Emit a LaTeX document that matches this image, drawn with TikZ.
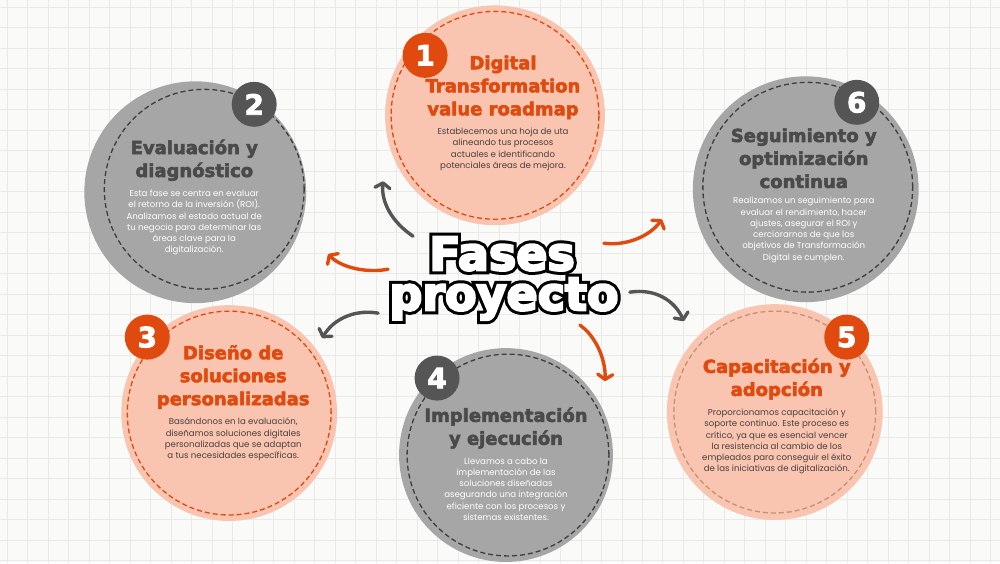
\documentclass[tikz,border=0pt]{standalone}
\usepackage{fontspec}
\setmainfont{Poppins}
\newfontfamily\heavyfont{DejaVu Sans}[BoldFeatures={FakeBold=3}]
\newfontfamily\wordfont{DejaVu Sans}[BoldFeatures={FakeBold=5}]
\newfontfamily\rimfont{DejaVu Sans}[BoldFeatures={FakeBold=18}]
\usetikzlibrary{arrows.meta}
\usetikzlibrary{positioning}

\definecolor{paper}{RGB}{250,250,248}
\definecolor{gridgray}{RGB}{233,233,231}
\definecolor{peach}{RGB}{249,196,176}
\definecolor{stone}{RGB}{166,166,166}
\definecolor{rust}{RGB}{224,74,14}
\definecolor{slate}{RGB}{85,85,85}
\definecolor{heading}{RGB}{74,74,74}
\definecolor{ringgray}{RGB}{62,62,62}
\definecolor{ink}{RGB}{72,64,64}
\definecolor{tan}{RGB}{196,146,116}

\tikzset{
  disc/.style={circle, minimum size=#1, inner sep=0pt},
  ring/.style={circle, minimum size=#1, inner sep=0pt, draw, line width=1.3pt, dash pattern=on 5pt off 3pt},
  badge/.style={circle, minimum size=45pt, inner sep=0pt, font=\heavyfont\bfseries\fontsize{28}{28}\selectfont, text=white},
  phase/.style={align=center, font=\heavyfont\bfseries\fontsize{18}{23}\selectfont},
  blurb/.style={align=center, font=\fontsize{8.6}{11.3}\selectfont},
  bigword/.style={anchor=base, inner sep=0pt, font=\wordfont\bfseries\fontsize{46}{46}\selectfont},
  bigrim/.style={bigword, font=\rimfont\bfseries\fontsize{46}{46}\selectfont, text=black},
  flow/.style={line width=3.4pt, line cap=round, -{Straight Barb[length=5pt,width=15pt,round]}},
}

\begin{document}
\begin{tikzpicture}[x=1pt, y=-1pt]
  % paper with grid
  \fill[paper] (0,0) rectangle (1000,563);
  \foreach \i in {0,...,48}
    \draw[gridgray, line width=0.8pt] (7+20.5*\i,0) -- (7+20.5*\i,563);
  \foreach \j in {0,...,27}
    \draw[gridgray, line width=0.8pt] (0,7+20.5*\j) -- (1000,7+20.5*\j);
  \useasboundingbox (0,0) rectangle (1000,563);

  % discs
  \node[disc=220pt, fill=peach] (c1) at (495,115) {};
  \node[ring=208pt, rust] (r1) at (c1) {};
  \node[disc=222pt, fill=stone] (c2) at (195,192) {};
  \node[ring=200pt, ringgray] (r2) at (204,189) {};
  \node[disc=216pt, fill=peach] (c3) at (229,413) {};
  \node[ring=204pt, rust] (r3) at (c3) {};
  \node[disc=214pt, fill=stone] (c4) at (506,455) {};
  \node[ring=202pt, ringgray] (r4) at (508,455) {};
  \node[disc=216pt, fill=peach] (c5) at (775,412) {};
  \node[ring=202pt, tan] (r5) at (c5) {};
  \node[disc=226pt, fill=stone] (c6) at (806,189) {};
  \node[ring=210pt, ringgray] (r6) at (808,187) {};

  % number badges
  \node[badge, fill=rust] (b1) at (425,55) {1};
  \node[badge, fill=slate] (b2) at (254,104) {2};
  \node[badge, fill=rust] (b3) at (147,337) {3};
  \node[badge, fill=slate] (b4) at (437,378) {4};
  \node[badge, fill=rust] (b5) at (847,337) {5};
  \node[badge, fill=slate] (b6) at (857,102) {6};

  % titles and texts
  \node[phase, text=rust] (t1) at (503,87) {Digital\\Transformation\\value roadmap};
  \node[blurb, text=ink, below=2pt of t1] (d1) {Establecemos una hoja de uta\\alineando tus procesos\\actuales e identificando\\potenciales áreas de mejora.};
  \node[phase, text=heading] (t2) at (194,160) {Evaluación y\\diagnóstico};
  \node[blurb, text=white, below=2pt of t2] (d2) {Esta fase se centra en evaluar\\el retorno de la inversión (ROI).\\Analizamos el estado actual de\\tu negocio para determinar las\\áreas clave para la\\digitalización.};
  \node[phase, text=rust] (t3) at (233,377) {Diseño de\\soluciones\\personalizadas};
  \node[blurb, text=ink, below=2pt of t3] (d3) {Basándonos en la evaluación,\\diseñamos soluciones digitales\\personalizadas que se adaptan\\a tus necesidades específicas.};
  \node[phase, text=heading] (t4) at (506,428) {Implementación\\y ejecución};
  \node[blurb, text=white, below=2pt of t4] (d4) {Llevamos a cabo la\\implementación de las\\soluciones diseñadas\\asegurando una integración\\eficiente con los procesos y\\sistemas existentes.};
  \node[phase, text=rust] (t5) at (777,379) {Capacitación y\\adopción};
  \node[blurb, text=ink, below=2pt of t5] (d5) {Proporcionamos capacitación y\\soporte continuo. Este proceso es\\crítico, ya que es esencial vencer\\la resistencia al cambio de los\\empleados para conseguir el éxito\\de las iniciativas de digitalización.};
  \node[phase, text=heading] (t6) at (804,158) {Seguimiento y\\optimización\\continua};
  \node[blurb, text=white, below=2pt of t6] (d6) {Realizamos un seguimiento para\\evaluar el rendimiento, hacer\\ajustes, asegurar el ROI y\\cerciorarnos de que los\\objetivos de Transformación\\Digital se cumplen.};

  % centre title, outlined
  \node[bigrim] (fasesrim) at (502,270) {Fases};
  \node[bigrim] (proyectorim) at (504,310) {proyecto};
  \node[bigword, text=white] (fases) at (fasesrim.base) {Fases};
  \node[bigword, text=white] (proyecto) at (proyectorim.base) {proyecto};

  % arrows
  \coordinate (a1s) at (413,236); \coordinate (a1e) at (383,181);
  \coordinate (a2s) at (388,269); \coordinate (a2e) at (328,254);
  \coordinate (a3s) at (378,313); \coordinate (a3e) at (322,338);
  \coordinate (a4s) at (580,325); \coordinate (a4e) at (605,381);
  \coordinate (a5s) at (630,292); \coordinate (a5e) at (684,321);
  \coordinate (a6s) at (604,243); \coordinate (a6e) at (662,219);
  \draw[flow, slate] (a1s) .. controls (392,222) and (381,202) .. (a1e);
  \draw[flow, rust] (a2s) .. controls (368,273) and (342,268) .. (a2e);
  \draw[flow, slate] (a3s) .. controls (356,309) and (334,318) .. (a3e);
  \draw[flow, rust] (a4s) .. controls (596,336) and (606,360) .. (a4e);
  \draw[flow, slate] (a5s) .. controls (656,288) and (675,301) .. (a5e);
  \draw[flow, rust] (a6s) .. controls (626,246) and (650,236) .. (a6e);
\end{tikzpicture}
\end{document}
